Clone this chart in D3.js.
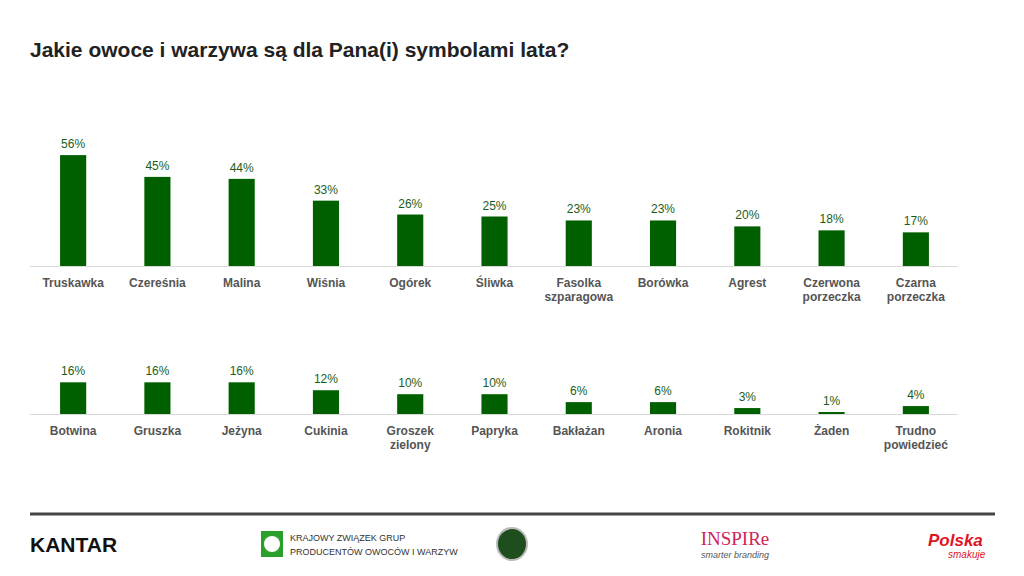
<!DOCTYPE html><html><head><meta charset="utf-8"><script src="https://cdn.jsdelivr.net/npm/d3@7"></script>
<style>body{margin:0;background:#fff}svg{display:block;font-family:Arial,"Liberation Sans",sans-serif}</style></head><body><svg id="c" width="1024" height="576"></svg>
<script>
const cats1=["Truskawka","Czereśnia","Malina","Wiśnia","Ogórek","Śliwka","Fasolka|szparagowa","Borówka","Agrest","Czerwona|porzeczka","Czarna|porzeczka"];
const vals1=[56,45,44,33,26,25,23,23,20,18,17];
const cats2=["Botwina","Gruszka","Jeżyna","Cukinia","Groszek|zielony","Papryka","Bakłażan","Aronia","Rokitnik","Żaden","Trudno|powiedzieć"];
const vals2=[16,16,16,12,10,10,6,6,3,1,4];
const svg=d3.select("#c");
svg.append("text").attr("x",30).attr("y",57).attr("font-size",21).attr("font-weight","bold").attr("fill","#222").text("Jakie owoce i warzywa są dla Pana(i) symbolami lata?");
const y=d3.scaleLinear().domain([0,100]).range([0,198]);
function panel(cats,vals,base){
  const x=d3.scaleBand().domain(cats).range([31,958]).paddingInner(0.69).paddingOuter(0.345);
  const g=svg.append("g");
  g.append("line").attr("x1",30).attr("x2",958).attr("y1",base+0.5).attr("y2",base+0.5).attr("stroke","#d9d9d9");
  g.selectAll("rect").data(vals).join("rect").attr("x",(d,i)=>x(cats[i])).attr("width",x.bandwidth())
   .attr("y",d=>base-y(d)).attr("height",d=>y(d)).attr("fill","#006000");
  g.selectAll(".v").data(vals).join("text").attr("x",(d,i)=>x(cats[i])+x.bandwidth()/2).attr("y",d=>base-y(d)-7)
   .attr("text-anchor","middle").attr("font-size",12).attr("fill","#1a5e1a").text(d=>d+"%");
  cats.forEach(c=>{
    const t=g.append("text").attr("x",x(c)+x.bandwidth()/2).attr("y",base+21).attr("text-anchor","middle").attr("font-size",12).attr("font-weight","bold").attr("fill","#555");
    c.split("|").forEach((s,j)=>t.append("tspan").attr("x",x(c)+x.bandwidth()/2).attr("dy",j?14:0).text(s));
  });
}
panel(cats1,vals1,266);
panel(cats2,vals2,414);
svg.append("line").attr("x1",30).attr("x2",995).attr("y1",514).attr("y2",514).attr("stroke","#444").attr("stroke-width",3);
svg.append("text").attr("x",30).attr("y",552).attr("font-size",21).attr("font-weight","bold").attr("fill","#111").text("KANTAR");
svg.append("rect").attr("x",261).attr("y",531).attr("width",22).attr("height",26).attr("fill","#2aa02a");
svg.append("circle").attr("cx",272).attr("cy",544).attr("r",8).attr("fill","#fff");
svg.append("text").attr("x",290).attr("y",541).attr("font-size",9).attr("fill","#333").text("KRAJOWY ZWIĄZEK GRUP");
svg.append("text").attr("x",290).attr("y",555).attr("font-size",9).attr("fill","#333").text("PRODUCENTÓW OWOCÓW I WARZYW");
svg.append("ellipse").attr("cx",512).attr("cy",544).attr("rx",15).attr("ry",16).attr("fill","#1e4d1e").attr("stroke","#bbb").attr("stroke-width",2);
svg.append("text").attr("x",735).attr("y",545).attr("text-anchor","middle").attr("font-size",19).attr("fill","#d0245a").attr("font-family","Liberation Serif,serif").text("INSPIRe");
svg.append("text").attr("x",735).attr("y",558).attr("text-anchor","middle").attr("font-size",9).attr("font-style","italic").attr("fill","#555").text("smarter branding");
svg.append("text").attr("x",928).attr("y",546).attr("font-size",17).attr("font-weight","bold").attr("font-style","italic").attr("fill","#e0141e").text("Polska");
svg.append("text").attr("x",948).attr("y",558).attr("font-size",10).attr("font-style","italic").attr("fill","#e0141e").text("smakuje");
</script></body></html>
